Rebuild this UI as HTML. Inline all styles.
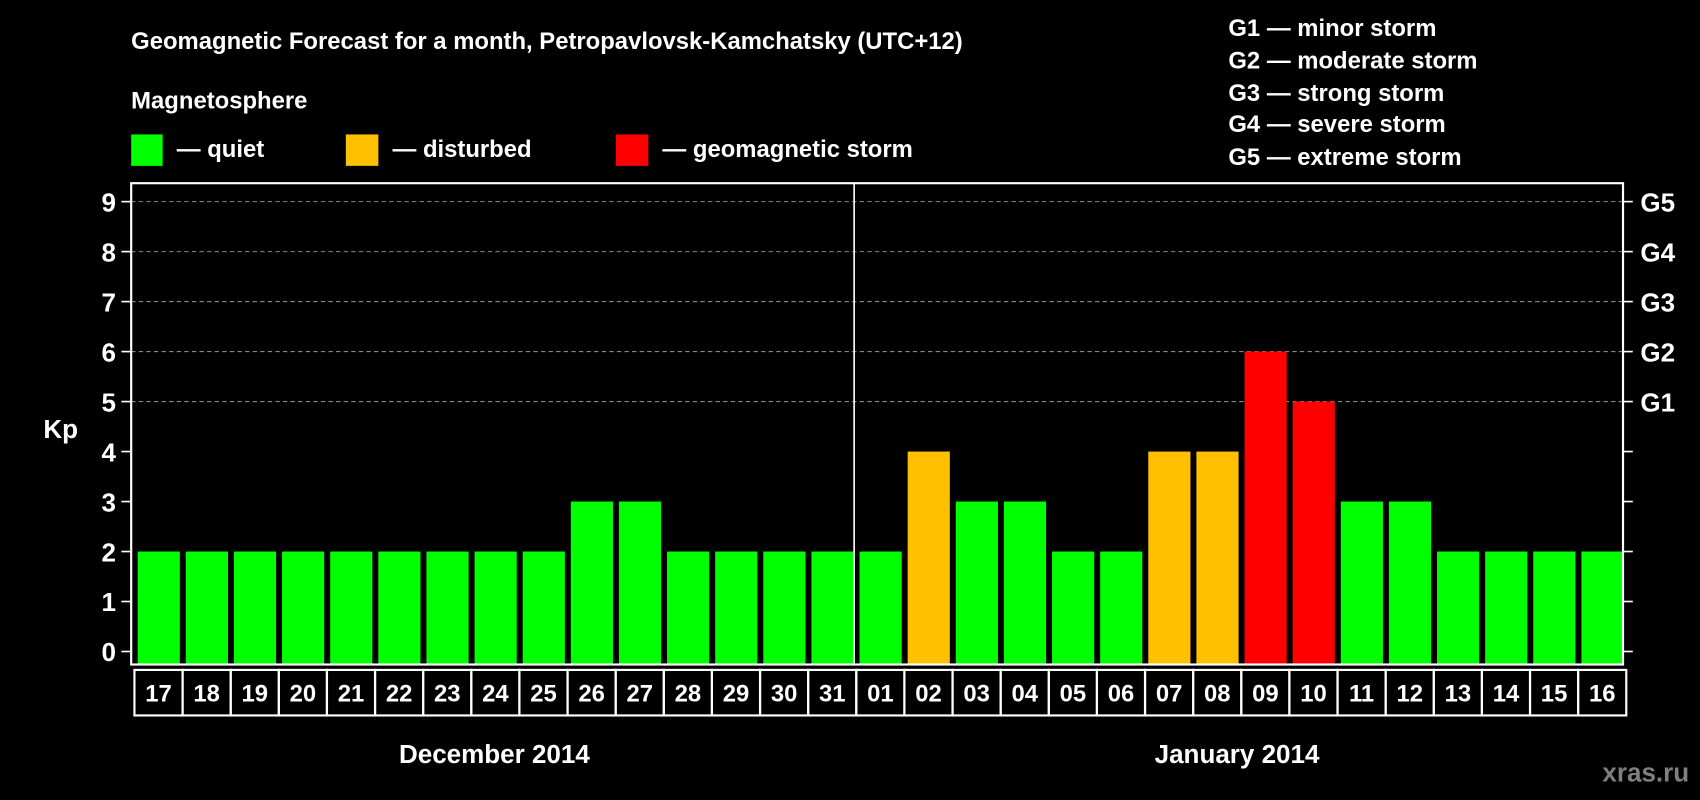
<!DOCTYPE html>
<html><head><meta charset="utf-8"><style>
html,body{margin:0;padding:0;background:#000;width:1700px;height:800px;overflow:hidden}
text{font-family:"Liberation Sans",Arial,sans-serif;font-weight:bold;fill:#fff}
</style></head><body>
<svg id="chart" width="1700" height="800" viewBox="0 0 1568 738" preserveAspectRatio="none" xmlns="http://www.w3.org/2000/svg">
<rect width="1568" height="738" fill="#000"/>
<text x="121" y="45" font-size="22">Geomagnetic Forecast for a month, Petropavlovsk-Kamchatsky (UTC+12)</text>
<text x="121" y="100" font-size="22">Magnetosphere</text>
<g><rect x="121" y="124" width="29" height="29" fill="#00ff00"/><text x="163" y="145" font-size="22">— quiet</text></g>
<g><rect x="319" y="124" width="30" height="29" fill="#ffc000"/><text x="362" y="145" font-size="22">— disturbed</text></g>
<g><rect x="568" y="124" width="30" height="29" fill="#ff0000"/><text x="611" y="145" font-size="22">— geomagnetic storm</text></g>
<g font-size="22">
<text x="1133" y="33">G1 — minor storm</text>
<text x="1133" y="63">G2 — moderate storm</text>
<text x="1133" y="93">G3 — strong storm</text>
<text x="1133" y="122">G4 — severe storm</text>
<text x="1133" y="152">G5 — extreme storm</text>
</g>
<text x="40" y="404" font-size="24">Kp</text>
<g id="grid"></g><g id="bars"></g><g id="axes"></g>
<text x="456" y="704" font-size="24" text-anchor="middle">December 2014</text>
<text x="1141" y="704" font-size="24" text-anchor="middle">January 2014</text>
<text x="1558" y="721" font-size="24" text-anchor="end" style="fill:#7f7f7f">xras.ru</text>
</svg>
<script>
const days = ["17","18","19","20","21","22","23","24","25","26","27","28","29","30","31","01","02","03","04","05","06","07","08","09","10","11","12","13","14","15","16"];
const kpValues = [2,2,2,2,2,2,2,2,2,3,3,2,2,2,2,2,4,3,3,2,2,4,4,6,5,3,3,2,2,2,2];
const yTicks = [0,1,2,3,4,5,6,7,8,9];
const gLabels = ["G1","G2","G3","G4","G5"];
const NS="http://www.w3.org/2000/svg";
const L=121,R=1497,T=169,B=613,y0=601,yUnit=(601-186)/9;
const slot=(R-L)/days.length;
const y=v=>y0-v*yUnit;
const x=i=>L+i*slot;
function mk(tag,attrs,parent){const e=document.createElementNS(NS,tag);for(const k in attrs)e.setAttribute(k,attrs[k]);parent.appendChild(e);return e;}
const grid=document.getElementById('grid'),bars=document.getElementById('bars'),axes=document.getElementById('axes');
yTicks.forEach(v=>{
  if(v>=5){const g=mk('line',{x1:L,x2:R,y1:y(v),y2:y(v),stroke:'#888','stroke-dasharray':'4,3','stroke-width':1},grid);
    
    }
  const t1=mk('line',{x1:L-9,x2:L,y1:y(v),y2:y(v),stroke:'#fff','stroke-width':1.5},axes);
  
  
  const t2=mk('line',{x1:R,x2:R+9,y1:y(v),y2:y(v),stroke:'#fff','stroke-width':1.5},axes);
  
  
  const lb=mk('text',{x:L-14,y:y(v)+9,'font-size':24,'text-anchor':'end'},axes);lb.textContent=v;
  
  
});
gLabels.forEach((g,i)=>{const t=mk('text',{x:R+16,y:y(5+i)+9,'font-size':24},axes);t.textContent=g;
  
  });
kpValues.forEach((v,i)=>{
  const c=v>=5?'#ff0000':(v>=4?'#ffc000':'#00ff00');
  const r=mk('rect',{x:x(i)+6,y:y(v),width:slot-5.5,height:y0-y(v)+12,fill:c},bars);
  
  
  const bx=mk('rect',{x:x(i)+3,y:618,width:slot,height:42,fill:'none',stroke:'#fff','stroke-width':2},axes);
  
  
  const t=mk('text',{x:x(i)+3+slot/2,y:647,'font-size':22,'text-anchor':'middle'},axes);t.textContent=days[i];
  
  
});
const fr=mk('rect',{x:L,y:T,width:R-L,height:B-T,fill:'none',stroke:'#fff','stroke-width':2},axes);


const dv=mk('line',{x1:x(15)+1,x2:x(15)+1,y1:T,y2:B,stroke:'#fff','stroke-width':1.5},axes);


</script>
</body></html>
